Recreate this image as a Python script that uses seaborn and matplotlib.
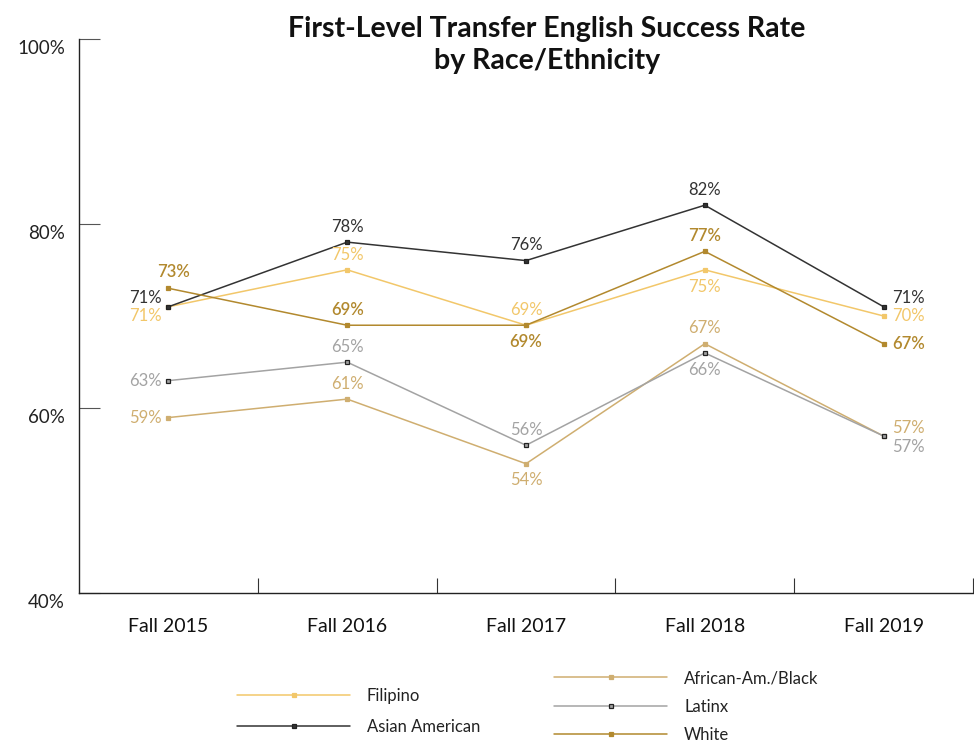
import seaborn as sns
import pandas as pd
import matplotlib.pyplot as plt
from matplotlib.ticker import FixedLocator, FuncFormatter
import matplotlib.transforms as mtransforms

# data
terms = ['Fall 2015', 'Fall 2016', 'Fall 2017', 'Fall 2018', 'Fall 2019']
filipino = [71, 75, 69, 75, 70]
asian_american = [71, 78, 76, 82, 71]
african_am_black = [59, 61, 54, 67, 57]
latinx = [63, 65, 56, 66, 57]
white = [73, 69, 69, 77, 67]

series = {
    'Filipino': filipino,
    'Asian American': asian_american,
    'African-Am./Black': african_am_black,
    'Latinx': latinx,
    'White': white,
}

colors = {
    'Filipino': '#F2C76A',
    'Asian American': '#333333',
    'African-Am./Black': '#CFAE70',
    'Latinx': '#A3A3A3',
    'White': '#B2892E',
}
edge = {'Latinx': '#222222', 'Asian American': '#222222'}

# where each data label sits relative to its point (style only)
placement = {
    'Filipino':          ['dl', 'a', 'a', 'b', 'r'],
    'Asian American':    ['ul', 'a', 'a', 'a', 'ur'],
    'African-Am./Black': ['l', 'a', 'b', 'a', 'ur'],
    'Latinx':            ['l', 'a', 'a', 'b', 'dr'],
    'White':             ['ar', 'a', 'b', 'a', 'r'],
}
offsets = {
    'a': ((0, 11), 'center', 'center'),
    'b': ((0, -12), 'center', 'center'),
    'l': ((-5, 0), 'right', 'center'),
    'r': ((6, 0), 'left', 'center'),
    'ul': ((-5, 6), 'right', 'center'),
    'dl': ((-5, -7), 'right', 'center'),
    'ur': ((6, 6), 'left', 'center'),
    'dr': ((6, -8), 'left', 'center'),
    'ar': ((4, 12), 'center', 'center'),
}

df = pd.DataFrame([(name, t, v) for name, vals in series.items()
                   for t, v in zip(terms, vals)],
                  columns=['group', 'term', 'rate'])

sns.set_theme(style='white')
plt.rcParams['font.family'] = ['Lato', 'DejaVu Sans']

fig = plt.figure(figsize=(9.74, 7.45), dpi=100)
ax = fig.add_axes([79 / 974, 1 - 593 / 745, 894 / 974, (593 - 39) / 745])

lines = {}
for name in series:
    sub = df[df['group'] == name]
    sns.lineplot(data=sub, x='term', y='rate', ax=ax, color=colors[name],
                 marker='s', markersize=3.3, linewidth=1.1,
                 markeredgecolor=edge.get(name, colors[name]),
                 markeredgewidth=0.9, label=name, legend=False, sort=False)
    lines[name] = ax.lines[-1]

# data labels
for name, vals in series.items():
    for i, v in enumerate(vals):
        (dx, dy), ha, va = offsets[placement[name][i]]
        ax.annotate(f'{v}%', (i, v), xytext=(dx, dy), textcoords='offset points',
                    ha=ha, va=va, fontsize=12, color=colors[name],
                    fontweight=600 if name == 'White' else 'normal')

ax.set_xlim(-0.5, 4.5)
ax.set_ylim(40, 100)
ax.set_xlabel('')
ax.set_ylabel('')

ax.yaxis.set_major_locator(FixedLocator([40, 60, 80, 100]))
ax.yaxis.set_major_formatter(FuncFormatter(lambda v, p: f'{v:.0f}%'))
ax.tick_params(axis='y', direction='in', length=15, width=0.8, color='#555555',
               pad=10, labelsize=13.5, labelcolor='#222222', left=True)
shift = mtransforms.ScaledTranslation(0, -8 / 100, fig.dpi_scale_trans)
for lab in ax.get_yticklabels():
    lab.set_transform(lab.get_transform() + shift)

ax.set_xticks(range(len(terms)))
ax.set_xticklabels(terms)
ax.xaxis.set_minor_locator(FixedLocator([0.5, 1.5, 2.5, 3.5, 4.5]))
ax.tick_params(axis='x', which='major', length=0, pad=18, labelsize=14,
               labelcolor='#111111')
ax.tick_params(axis='x', which='minor', direction='in', length=11, width=0.8,
               color='#333333', bottom=True)

sns.despine(ax=ax, top=True, right=True)
for s in ['left', 'bottom']:
    ax.spines[s].set_color('#222222')
    ax.spines[s].set_linewidth(1.0)

fig.text(547 / 974, 1 - 45 / 745,
         'First-Level Transfer English Success Rate\nby Race/Ethnicity',
         ha='center', va='center', fontsize=20.5, fontweight='bold',
         color='#111111', linespacing=1.3)

leg_kw = dict(frameon=False, fontsize=12, handlelength=6.8, handletextpad=1.0,
              borderpad=0, borderaxespad=0, loc='upper left',
              labelcolor='#222222')
left_names = ['Filipino', 'Asian American']
right_names = ['African-Am./Black', 'Latinx', 'White']
leg1 = fig.legend([lines[n] for n in left_names], left_names, labelspacing=0.9,
                  bbox_to_anchor=(237 / 974, 1 - 688 / 745), **leg_kw)
leg2 = fig.legend([lines[n] for n in right_names], right_names, labelspacing=0.75,
                  bbox_to_anchor=(554 / 974, 1 - 670 / 745), **leg_kw)

fig.savefig('out.png', dpi=100)
